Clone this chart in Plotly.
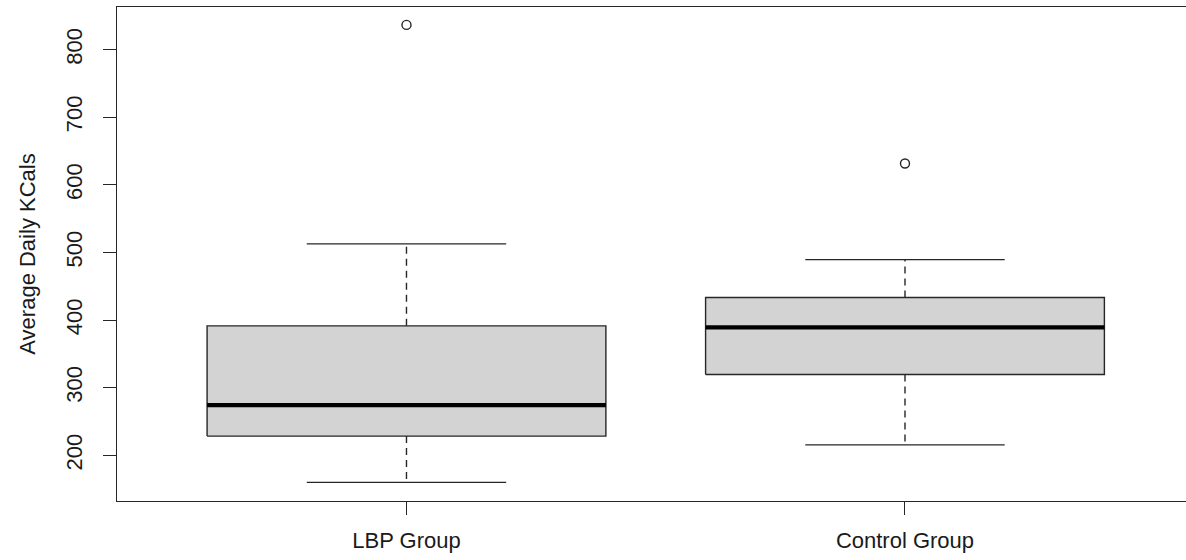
import plotly.graph_objects as go

# Summary statistics for average daily kcal intake by group
groups = ["LBP Group", "Control Group"]
lower_whisker = [160.0, 215.5]
q1 = [228.5, 319.5]
median = [274.3, 389.3]
q3 = [391.5, 433.5]
upper_whisker = [512.7, 489.5]
outliers = [[836.5], [631.5]]

y_ticks = [200, 300, 400, 500, 600, 700, 800]

BOX_W = 0.8      # box width in category units
CAP_W = 0.4      # whisker staple width
LINE = "#262626"
FONT = "Liberation Sans, Arial, sans-serif"

fig = go.Figure()
pos = list(range(1, len(groups) + 1))

for i, x in enumerate(pos):
    x0, x1 = x - BOX_W / 2, x + BOX_W / 2
    # box body
    fig.add_trace(go.Scatter(
        x=[x0, x1, x1, x0, x0], y=[q1[i], q1[i], q3[i], q3[i], q1[i]],
        mode="lines", fill="toself", fillcolor="#D3D3D3",
        line=dict(color=LINE, width=1.4), hoverinfo="skip", showlegend=False))
    # dashed whiskers
    for a, b in ((q3[i], upper_whisker[i]), (q1[i], lower_whisker[i])):
        fig.add_trace(go.Scatter(
            x=[x, x], y=[a, b], mode="lines",
            line=dict(color=LINE, width=1.4, dash="7px,5px"),
            hoverinfo="skip", showlegend=False))
    # staples
    for v in (upper_whisker[i], lower_whisker[i]):
        fig.add_trace(go.Scatter(
            x=[x - CAP_W / 2, x + CAP_W / 2], y=[v, v], mode="lines",
            line=dict(color=LINE, width=1.4), hoverinfo="skip", showlegend=False))
    # median
    fig.add_trace(go.Scatter(
        x=[x0, x1], y=[median[i], median[i]], mode="lines",
        line=dict(color="black", width=4.2), hoverinfo="skip", showlegend=False))
    # outliers
    fig.add_trace(go.Scatter(
        x=[x] * len(outliers[i]), y=outliers[i], mode="markers",
        marker=dict(symbol="circle-open", size=9, color=LINE, line=dict(width=1.4)),
        hoverinfo="skip", showlegend=False))

fig.update_layout(
    width=1186, height=560,
    margin=dict(l=117, r=0, t=7, b=59),
    paper_bgcolor="white", plot_bgcolor="white",
    font=dict(family=FONT, size=22, color="#1a1a1a"),
    xaxis=dict(
        range=[0.4193, 2.5637], tickvals=pos, ticktext=groups,
        showgrid=False, zeroline=False,
        showline=True, mirror=True, linecolor=LINE, linewidth=1.4,
        ticks="outside", ticklen=13, tickcolor=LINE, tickwidth=1.4,
        ticklabelstandoff=6,
    ),
    yaxis=dict(
        range=[132.5, 863], tickvals=y_ticks, tickangle=-90,
        showgrid=False, zeroline=False,
        showline=True, linecolor=LINE, linewidth=1.4,
        ticks="outside", ticklen=13, tickcolor=LINE, tickwidth=1.4,
        ticklabelstandoff=12,
        title=dict(text="Average Daily KCals", standoff=20, font=dict(size=22)),
    ),
)

fig.write_html("out.html")
